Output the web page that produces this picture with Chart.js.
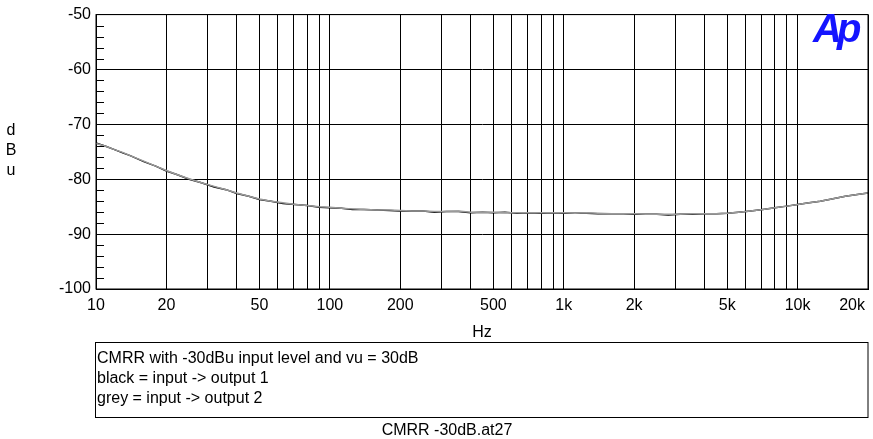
<!DOCTYPE html>
<html>
<head>
<meta charset="utf-8">
<script src="https://cdn.jsdelivr.net/npm/chart.js@4.4.1/dist/chart.umd.min.js"></script>
<style>
    body { margin: 0; background: #fff; }
    #wrap { width: 873px; height: 439px; position: relative; }
</style>
</head>
<body>
<div id="wrap"><canvas id="chartCMRR"></canvas></div>
<script>
// frequency points (Hz)
var freqs = [10, 11, 12, 13, 14, 16, 18, 20, 22, 25, 28, 32, 36, 40, 45, 50, 56, 63, 71, 80, 90,
    100, 112, 125, 140, 160, 180, 200, 224, 250, 280, 315, 355, 400, 450, 500, 560, 630, 710, 800, 900,
    1000, 1120, 1250, 1400, 1600, 1800, 2000, 2240, 2500, 2800, 3150, 3550, 4000, 4500, 5000, 5600, 6300,
    7100, 8000, 9000, 10000, 11200, 12500, 14000, 16000, 18000, 20000];

// black = input -> output 1
var output1 = [-73.4, -74.0, -74.6, -75.2, -75.7, -76.8, -77.6, -78.5, -79.1, -80.0, -80.6, -81.4, -81.9, -82.6, -83.1, -83.7, -84.0, -84.4, -84.6, -84.8, -85.1,
    -85.2, -85.3, -85.5, -85.5, -85.6, -85.7, -85.8, -85.8, -85.8, -86.0, -85.9, -85.9, -86.1, -86.0, -86.1, -86.0, -86.2, -86.1, -86.2, -86.1,
    -86.2, -86.2, -86.2, -86.3, -86.3, -86.3, -86.4, -86.4, -86.4, -86.5, -86.4, -86.4, -86.3, -86.3, -86.2, -86.0, -85.8,
    -85.5, -85.2, -84.9, -84.6, -84.3, -84.0, -83.6, -83.1, -82.8, -82.5];

// grey = input -> output 2
var output2 = [-73.5, -74.0, -74.6, -75.1, -75.7, -76.7, -77.6, -78.4, -79.1, -79.9, -80.6, -81.3, -81.9, -82.5, -83.1, -83.6, -84.0, -84.3, -84.6, -84.8, -85.0,
    -85.1, -85.3, -85.4, -85.5, -85.6, -85.6, -85.7, -85.8, -85.8, -85.9, -85.9, -85.8, -86.0, -86.0, -86.0, -86.1, -86.1, -86.1, -86.1, -86.1,
    -86.1, -86.2, -86.1, -86.2, -86.3, -86.3, -86.3, -86.4, -86.4, -86.4, -86.4, -86.3, -86.3, -86.3, -86.2, -86.0, -85.8,
    -85.5, -85.2, -84.9, -84.6, -84.3, -84.0, -83.6, -83.1, -82.8, -82.5];

var gridFreqs = [10, 20, 30, 40, 50, 60, 70, 80, 90, 100, 200, 300, 400, 500, 600, 700, 800, 900,
    1000, 2000, 3000, 4000, 5000, 6000, 7000, 8000, 9000, 10000, 20000];
var xTickValues = [10, 20, 50, 100, 200, 500, 1000, 2000, 5000, 10000, 20000];
var xTickLabels = ['10', '20', '50', '100', '200', '500', '1k', '2k', '5k', '10k', '20k'];

var boxLines = ['CMRR with -30dBu input level and vu = 30dB', 'black = input -> output 1', 'grey = input -> output 2'];
var fileName = 'CMRR -30dB.at27';

var fontName = '"Liberation Sans", Arial, sans-serif';

function toPoints(values) {
    var pts = [];
    for (var i = 0; i < freqs.length; i++) {
        pts.push({ x: freqs[i], y: values[i] });
    }
    return pts;
}

var apDecor = {
    id: 'apDecor',
    afterDraw: function (chart) {
        var ctx = chart.ctx;
        var area = chart.chartArea;
        var xs = chart.scales.x;
        var ys = chart.scales.y;
        ctx.save();

        // frame
        ctx.strokeStyle = '#000';
        ctx.lineWidth = 1;
        ctx.strokeRect(area.left, area.top, area.right - area.left, area.bottom - area.top);

        // minor ticks every 2 dB on the left side
        ctx.beginPath();
        for (var v = -98; v < -50; v += 2) {
            if (v % 10 === 0) continue;
            var py = Math.round(ys.getPixelForValue(v)) + 0.5;
            ctx.moveTo(area.left, py);
            ctx.lineTo(area.left + 8, py);
        }
        ctx.stroke();

        // x tick labels
        ctx.fillStyle = '#000';
        ctx.font = '16px ' + fontName;
        ctx.textBaseline = 'alphabetic';
        for (var i = 0; i < xTickValues.length; i++) {
            var px = xs.getPixelForValue(xTickValues[i]);
            if (i === xTickValues.length - 1) {
                ctx.textAlign = 'right';
                px = area.right - 3;
            } else {
                ctx.textAlign = 'center';
            }
            ctx.fillText(xTickLabels[i], px, 310);
        }

        // axis titles
        ctx.textAlign = 'center';
        ctx.fillText('Hz', (area.left + area.right) / 2, 337);
        ctx.fillText('d', 11, 135);
        ctx.fillText('B', 11, 155);
        ctx.fillText('u', 11, 175);

        // comment box
        ctx.strokeRect(95.5, 342.5, area.right - 95.5, 75);
        ctx.textAlign = 'left';
        for (var j = 0; j < boxLines.length; j++) {
            ctx.fillText(boxLines[j], 97, 363 + j * 20);
        }
        ctx.textAlign = 'center';
        ctx.fillText(fileName, 447, 435);

        // Ap logo
        ctx.fillStyle = '#1414ff';
        ctx.font = 'bold italic 40px ' + fontName;
        ctx.textAlign = 'left';
        ctx.fillText('A', 813, 42);
        ctx.fillText('p', 837, 42);

        ctx.restore();
    }
};

var $chartCMRR = new Chart(document.getElementById('chartCMRR').getContext('2d'), {
    type: 'line',
    data: {
        datasets: [{
            label: 'output 2',
            data: toPoints(output2),
            borderColor: '#9a9a9a',
            borderWidth: 1.5,
            pointRadius: 0,
            tension: 0,
            order: 1
        }, {
            label: 'output 1',
            data: toPoints(output1),
            borderColor: '#000',
            borderWidth: 1.5,
            pointRadius: 0,
            tension: 0,
            order: 2
        }]
    },
    options: {
        responsive: true,
        maintainAspectRatio: false,
        animation: false,
        layout: { padding: { top: 11, right: 5, left: 0, bottom: 0 } },
        plugins: {
            legend: { display: false },
            tooltip: { enabled: false }
        },
        scales: {
            x: {
                type: 'logarithmic',
                min: 10,
                max: 20000,
                afterBuildTicks: function (scale) {
                    scale.ticks = gridFreqs.map(function (f) { return { value: f }; });
                },
                afterFit: function (scale) {
                    scale.height = 150;
                },
                ticks: { display: false },
                grid: { color: '#000', lineWidth: 1, drawTicks: false },
                border: { color: '#000' }
            },
            y: {
                min: -100,
                max: -50,
                afterFit: function (scale) {
                    scale.width = 96;
                },
                ticks: {
                    stepSize: 10,
                    padding: 5,
                    color: '#000',
                    font: { family: fontName, size: 16 }
                },
                grid: { color: '#000', lineWidth: 1, drawTicks: false },
                border: { color: '#000' }
            }
        }
    },
    plugins: [apDecor]
});
</script>
</body>
</html>
